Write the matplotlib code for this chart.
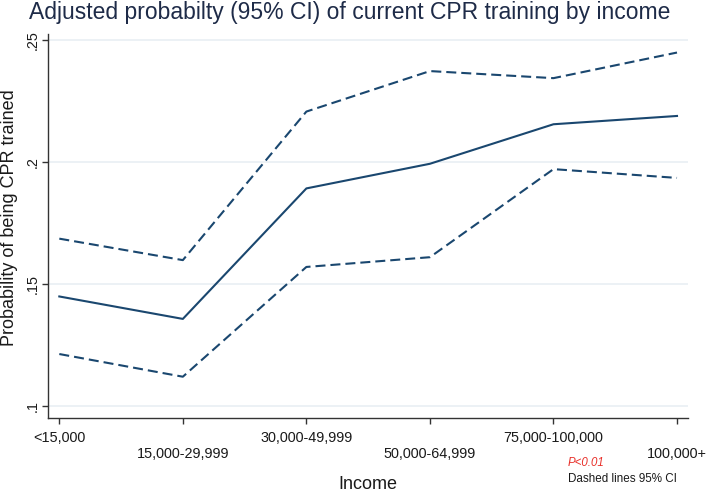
import matplotlib
matplotlib.use('Agg')
import matplotlib.pyplot as plt

plt.rcParams['font.family'] = ['Liberation Sans', 'DejaVu Sans']

income = ['<15,000', '15,000-29,999', '30,000-49,999',
          '50,000-64,999', '75,000-100,000', '100,000+']
prob = [0.1449, 0.1357, 0.1892, 0.1993, 0.2155, 0.2189]
upper = [0.1686, 0.1598, 0.2207, 0.2373, 0.2344, 0.2449]
lower = [0.1213, 0.1120, 0.1570, 0.1610, 0.1971, 0.1935]
yticks = [0.10, 0.15, 0.20, 0.25]
ytick_labels = ['.1', '.15', '.2', '.25']

W, H = 709, 496
fig = plt.figure(figsize=(W / 100, H / 100), dpi=100)
# plot region in pixels: x 48..688, y 34..418
ax = fig.add_axes([48 / W, 1 - 417.7 / H, 640 / W, (417.7 - 34) / H])

navy = '#1a476f'
x = list(range(len(income)))
ax.plot(x, prob, color=navy, lw=1.5)
ax.plot(x, upper, color=navy, lw=1.5, dashes=(4.8, 2.4))
ax.plot(x, lower, color=navy, lw=1.5, dashes=(4.8, 2.4))

ax.set_xlim(-0.0915, 5.089)
ax.set_ylim(0.0952, 0.2525)

ax.set_yticks(yticks)
ax.set_yticklabels(ytick_labels)
ax.set_xticks(x)
ax.set_xticklabels(income)

ax.grid(axis='y', color='#e9eff3', lw=1.2)
ax.set_axisbelow(True)
for side in ['top', 'right']:
    ax.spines[side].set_visible(False)
for side in ['left', 'bottom']:
    ax.spines[side].set_color('#333333')
    ax.spines[side].set_linewidth(1.0)

ax.tick_params(axis='both', direction='out', length=4.3, width=1.0,
               color='#333333', labelsize=10.4, labelcolor='#1a1a1a')
ax.tick_params(axis='y', labelrotation=90, pad=1.5)
for lab in ax.get_yticklabels():
    lab.set_va('center')
# staggered x tick labels
for i, t in enumerate(ax.xaxis.get_major_ticks()):
    t.set_pad(5.2 if i % 2 == 0 else 16.6)

ax.set_ylabel('Probability of being CPR trained', fontsize=13,
              color='#1a1a1a', va='center')
ax.yaxis.set_label_coords(-0.0594, 0.5205)
ax.set_xlabel('Income', fontsize=13, color='#1a1a1a', va='center')
ax.xaxis.set_label_coords(0.5, -0.1745)

fig.text(29 / W, 1 - 13 / H,
         'Adjusted probabilty (95% CI) of current CPR training by income',
         fontsize=16.5, color='#1e2b48', ha='left', va='center')

fig.text(568 / W, 1 - 463 / H, 'P<0.01', fontsize=8.3, color='#e8302a',
         style='italic', ha='left', va='center')
fig.text(568 / W, 1 - 479 / H, 'Dashed lines 95% CI', fontsize=8.4,
         color='#1a1a1a', ha='left', va='center')

fig.savefig('out.png', dpi=100)
